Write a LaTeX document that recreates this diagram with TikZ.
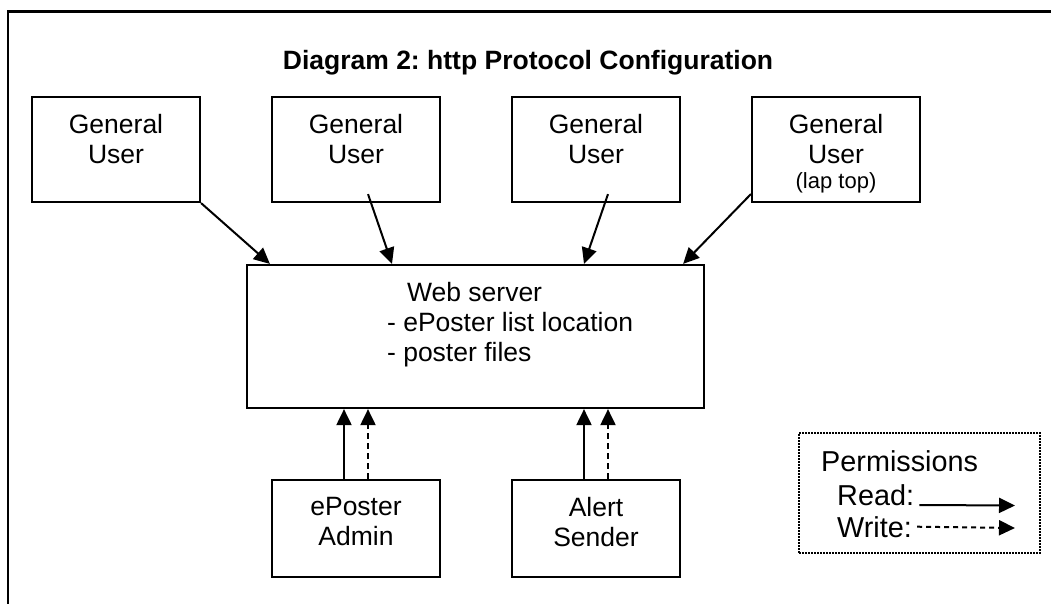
\documentclass[tikz,border=0pt]{standalone}
\usepackage{fontspec}
\setmainfont{Liberation Sans}
\usetikzlibrary{arrows.meta,positioning}
\frenchspacing
\begin{document}
\begin{tikzpicture}
            [x=1pt, y=-1pt,
             box/.style = {draw, line width=2.2pt, inner sep=0pt, minimum width=168pt},
             boxtext/.style = {align=center, inner sep=0pt, font=\fontsize{26.5}{30}\selectfont},
             legtext/.style = {inner sep=0pt, anchor=base west, font=\fontsize{28.8}{32}\selectfont},
             link/.style = {line width=2pt, -{Triangle[length=16pt,width=15pt]}},
             wlink/.style = {link, dash pattern=on 6pt off 4pt}]
            \useasboundingbox (0,0) rectangle (1051,604);
            \draw[line width=2.4pt] (8,620) |- (1070,11.5);
            \node[anchor=base, inner sep=0pt, font=\bfseries\fontsize{26.5}{30}\selectfont] (title) at (528,70) {Diagram 2: http Protocol Configuration};
            \node[box, minimum height=105pt] (u1) at (116,149.5) {};
            \node[box, minimum height=105pt] (u2) at (356,149.5) {};
            \node[box, minimum height=105pt] (u3) at (596,149.5) {};
            \node[box, minimum height=105pt] (u4) at (836,149.5) {};
            \node[boxtext] (u1t) [below=18pt of u1.north] {General\\User};
            \node[boxtext] (u2t) [below=18pt of u2.north] {General\\User};
            \node[boxtext] (u3t) [below=18pt of u3.north] {General\\User};
            \node[boxtext] (u4t) [below=18pt of u4.north] {General\\User\\[-5pt]{\fontsize{22}{26}\selectfont(lap top)}};
            \node[box, minimum width=457pt, minimum height=143pt] (web) at (475.5,336.5) {};
            \node[boxtext, align=left] (webt) [below right=18pt and 141pt of web.north west] {\hspace*{20pt}Web server\\- ePoster list location\\- poster files};
            \node[box, minimum height=97pt] (adm) at (356,528.5) {};
            \node[box, minimum height=97pt] (alr) at (596,528.5) {};
            \node[boxtext] (admt) [below=18pt of adm.north] {ePoster\\Admin};
            \node[boxtext] (alrt) [below=18pt of alr.north] {Alert\\Sender};
            \draw[link] (u1.south east) -- ([xshift=24pt]web.north west);
            \draw[link] ([xshift=12pt,yshift=9pt]u2.south) -- ([xshift=-83.5pt]web.north);
            \draw[link] ([xshift=12pt,yshift=9pt]u3.south) -- ([xshift=108.5pt]web.north);
            \draw[link] ([yshift=9pt]u4.south west) -- ([xshift=-22pt]web.north east);
            \draw[link] ([xshift=-12pt]adm.north) -- ([xshift=-12pt]adm.north |- web.south);
            \draw[wlink] ([xshift=12pt]adm.north) -- ([xshift=12pt]adm.north |- web.south);
            \draw[link] ([xshift=-12pt]alr.north) -- ([xshift=-12pt]alr.north |- web.south);
            \draw[wlink] ([xshift=12pt]alr.north) -- ([xshift=12pt]alr.north |- web.south);
            \node[draw, line width=1.6pt, dash pattern=on 1.6pt off 1.4pt, minimum width=241pt, minimum height=120pt] (leg) at (919.5,493) {};
            \node[legtext] (perm) at (821,471) {Permissions};
            \node[legtext] (rd) at (837,505) {Read:};
            \node[legtext] (wr) at (837,537) {Write:};
            \coordinate (rdend) at (1015,505.5);
            \coordinate (wrend) at (1015,528);
            \draw[link] ([xshift=5pt]rd.base east) -- (rdend);
            \draw[link, dash pattern=on 5pt off 4pt] ([xshift=5pt]wr.east) -- (wrend);
        \end{tikzpicture}
\end{document}
